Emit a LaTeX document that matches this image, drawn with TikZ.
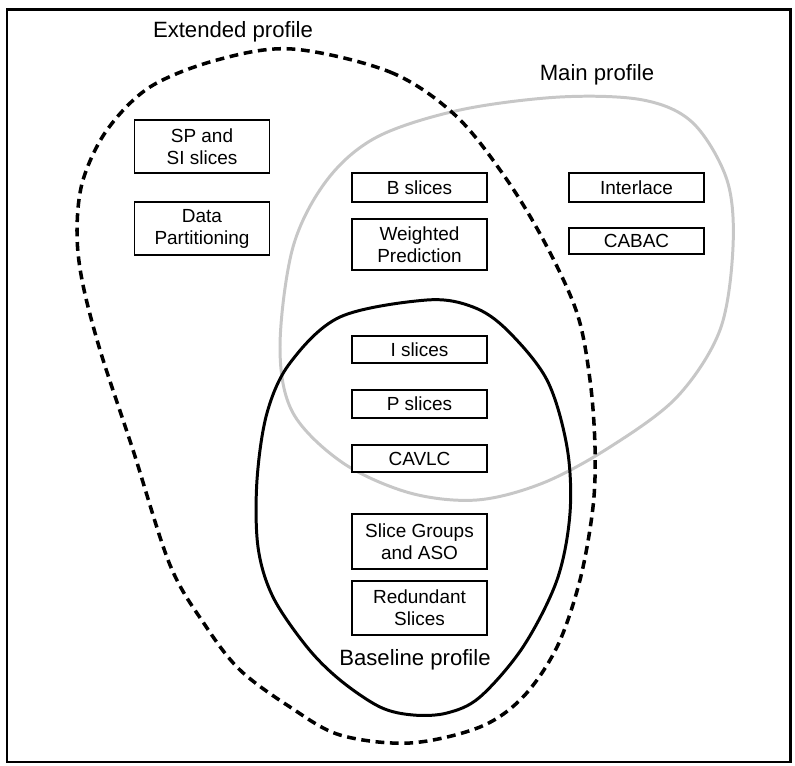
\documentclass[tikz,border=0pt]{standalone}
\usepackage{fontspec}
\setmainfont{Liberation Sans}
\usetikzlibrary{positioning}

\begin{document}
\begin{tikzpicture}[x=0.02cm, y=-0.02cm,
    feature/.style={draw, line width=0.8pt, fill=white, inner sep=0pt,
        minimum width=2.7cm, align=center, font=\fontsize{10.8}{12.5}\selectfont},
    profile/.style={font=\fontsize{12.6}{15}\selectfont}]
    \useasboundingbox (0,0) rectangle (795,766);
    % Frame
    \draw[line width=1.7pt] (7,10) rectangle (790,762);

    % Main profile (grey)
    \draw[line width=1.7pt, black!22] plot[smooth cycle, tension=0.55] coordinates {
        (560,97) (643,100) (693,123) (727,180) (733,247) (720,330) (677,397)
        (610,447) (543,483) (477,500) (410,493) (343,463) (293,413) (280,347)
        (293,247) (327,180) (377,137) (460,110)};

    % Extended profile (dashed)
    \draw[line width=2pt, dash pattern=on 5pt off 3.2pt] plot[smooth cycle, tension=0.55] coordinates {
        (292,49) (390,72) (455,115) (505,177) (545,243) (577,313) (590,380)
        (595,447) (593,507) (580,580) (557,647) (523,697) (480,727) (410,743)
        (340,735) (290,707) (240,670) (205,625) (170,565) (133,450) (100,350)
        (82,280) (77,230) (83,180) (107,130) (150,87) (217,60)};

    % Baseline profile (solid)
    \draw[line width=1.7pt] plot[smooth cycle, tension=0.55] coordinates {
        (427,300) (473,307) (507,330) (547,380) (567,447) (570,513) (557,580)
        (523,647) (480,697) (447,713) (413,715) (380,707) (340,680) (307,647)
        (273,597) (258,547) (257,480) (267,413) (290,363) (340,317)};

    % Profile names
    \node[profile] (extname) at (233,32) {Extended profile};
    \node[profile] (mainname) at (597,75) {Main profile};
    \node[profile] (basename) at (415,660) {Baseline profile};

    % Extended only
    \node[feature, minimum height=1.06cm] (spsi) at (202,146.5) {SP and\\SI slices};
    \node[feature, minimum height=1.06cm] (datapart) at (202,228.5) {Data\\Partitioning};

    % Extended and Main
    \node[feature, minimum height=0.58cm] (bslices) at (419.5,187.5) {B slices};
    \node[feature, minimum height=1.02cm] (weighted) at (419.5,244.5) {Weighted\\Prediction};

    % Main only
    \node[feature, minimum height=0.58cm] (interlace) at (636.5,187.5) {Interlace};
    \node[feature, minimum height=0.52cm] (cabac) at (636.5,241) {CABAC};

    % Common to all
    \node[feature, minimum height=0.54cm] (islices) at (419.5,349.5) {I slices};
    \node[feature, minimum height=0.56cm] (pslices) at (419.5,404) {P slices};
    \node[feature, minimum height=0.54cm] (cavlc) at (419.5,458.5) {CAVLC};

    % Baseline and Extended
    \node[feature, minimum height=1.1cm] (slicegroups) at (419.5,541.5) {Slice Groups\\and ASO};
    \node[feature, minimum height=1.08cm] (redundant) at (419.5,608) {Redundant\\Slices};
\end{tikzpicture}
\end{document}
